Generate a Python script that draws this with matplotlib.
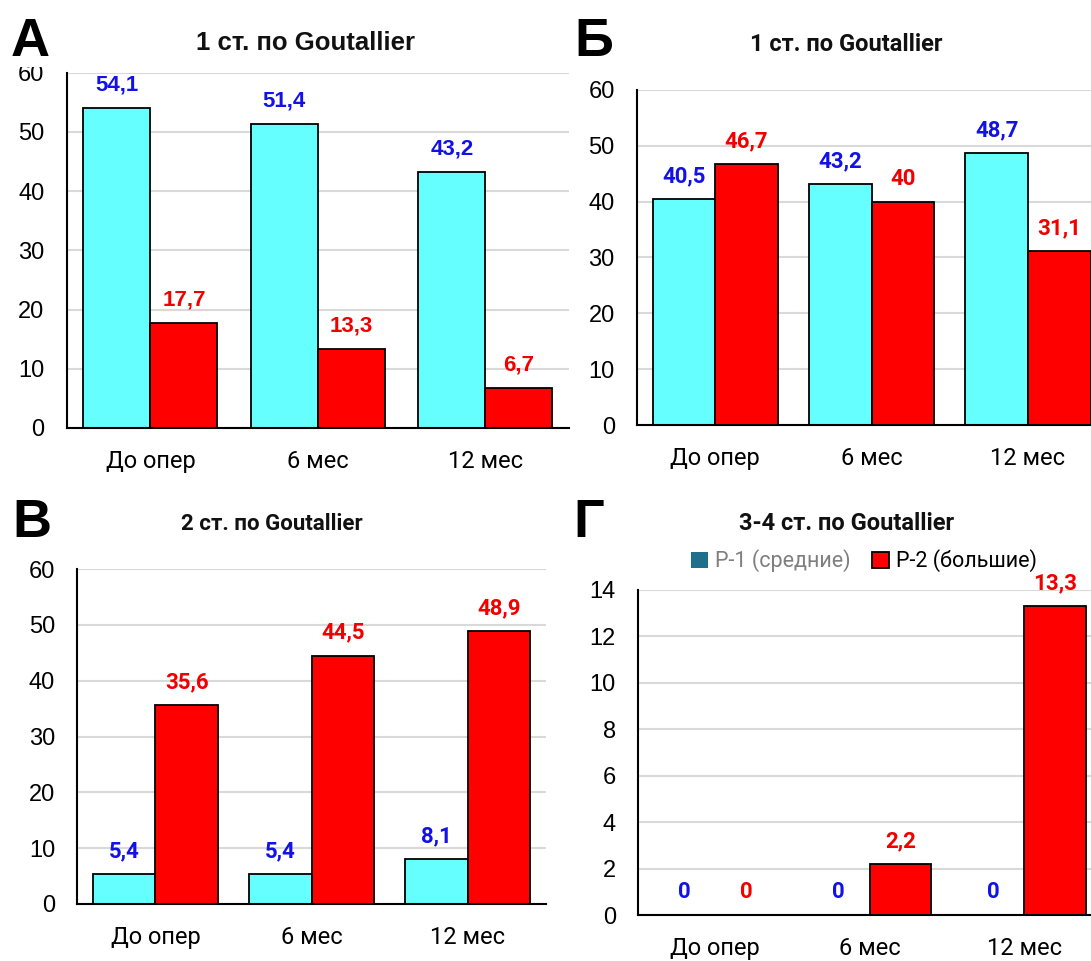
import matplotlib
matplotlib.use("Agg")
import matplotlib.pyplot as plt
from matplotlib.patches import Patch, Rectangle
import numpy as np

# ---------------- data ----------------
categories = ['До опер', '6 мес', '12 мес']
series_names = ['P-1 (средние)', 'P-2 (большие)']

a_p1 = [54.1, 51.4, 43.2]
a_p2 = [17.7, 13.3, 6.7]
b_p1 = [40.5, 43.2, 48.7]
b_p2 = [46.7, 40.0, 31.1]
v_p1 = [5.4, 5.4, 8.1]
v_p2 = [35.6, 44.5, 48.9]
g_p1 = [0, 0, 0]
g_p2 = [0, 2.2, 13.3]

titles = ['1 ст. по Goutallier', '1 ст. по Goutallier',
          '2 ст. по Goutallier', '3-4 ст. по Goutallier']
letters = ['А', 'Б', 'В', 'Г']
y_max = [60, 60, 60, 14]
y_step = [10, 10, 10, 2]

# ---------------- style ----------------
W, H = 1091, 961
CYAN = '#66FFFF'
RED = '#FF0000'
LBL_BLUE = '#1212E8'
LBL_RED = '#F20000'
GRID = '#D9D9D9'
ARIAL = ['Liberation Sans', 'DejaVu Sans']
ROBOTO = ['Roboto', 'DejaVu Sans']

fig = plt.figure(figsize=(W / 100, H / 100), dpi=100)
fig.patch.set_facecolor('white')


def px_rect(left, right, top, bottom):
    return [left / W, 1 - bottom / H, (right - left) / W, (bottom - top) / H]


# axes rectangles in pixel coordinates (left, right, top, bottom)
rects = [
    px_rect(66.7, 569, 72.7, 428),
    px_rect(637, 1106.2, 90, 425),
    px_rect(77.3, 546, 569, 904),
    px_rect(638, 1101.2, 590, 915),
]
title_pos = [(305, 50), (846, 51), (272, 530), (847, 530)]
title_font = [ARIAL, ROBOTO, ROBOTO, ROBOTO]
title_size = [18.5, 17, 16, 17]
letter_pos = [(11, 56), (574, 56), (12, 537), (573, 537)]
label_font = [ARIAL, ROBOTO, ROBOTO, ROBOTO]

data = [(a_p1, a_p2), (b_p1, b_p2), (v_p1, v_p2), (g_p1, g_p2)]


def fmt(v):
    if float(v) == int(v):
        return str(int(v))
    return ('%.1f' % v).replace('.', ',')


x = np.arange(len(categories))
bw = 0.4
axes = []
for i, (p1, p2) in enumerate(data):
    ax = fig.add_axes(rects[i])
    axes.append(ax)
    ax.set_axisbelow(True)
    ax.bar(x - bw / 2, p1, width=bw, color=CYAN, edgecolor='black',
           linewidth=1.3, label=series_names[0], zorder=2)
    ax.bar(x + bw / 2, p2, width=bw, color=RED, edgecolor='black',
           linewidth=1.3, label=series_names[1], zorder=2)
    for xi, v in zip(x - bw / 2, p1):
        ax.annotate(fmt(v), xy=(xi, v), xytext=(0, 16.5),
                    textcoords='offset points', ha='center', va='center',
                    fontsize=16, fontweight='bold', color=LBL_BLUE,
                    family=label_font[i], annotation_clip=False)
    for xi, v in zip(x + bw / 2, p2):
        ax.annotate(fmt(v), xy=(xi, v), xytext=(0, 16.5),
                    textcoords='offset points', ha='center', va='center',
                    fontsize=16, fontweight='bold', color=LBL_RED,
                    family=label_font[i], annotation_clip=False)
    ax.set_xlim(-0.5, 2.5)
    ax.set_ylim(0, y_max[i])
    ax.set_yticks(np.arange(0, y_max[i] + 0.001, y_step[i]))
    ax.set_xticks(x)
    ax.set_xticklabels(categories, family=ROBOTO, fontsize=17)
    for t in ax.get_yticklabels():
        t.set_family(ARIAL)
        t.set_fontsize(17)
    ax.tick_params(axis='both', length=0)
    ax.tick_params(axis='y', pad=16)
    ax.tick_params(axis='x', pad=16)
    ax.grid(axis='y', color=GRID, linewidth=1.5)
    ax.grid(axis='x', visible=False)
    for s in ['top', 'right']:
        ax.spines[s].set_visible(False)
    for s in ['left', 'bottom']:
        ax.spines[s].set_color('black')
        ax.spines[s].set_linewidth(1.5)
        ax.spines[s].set_zorder(3)

    tx, ty = title_pos[i]
    fig.text(tx / W, 1 - ty / H, titles[i], ha='center', va='baseline',
             fontsize=title_size[i], fontweight='bold', family=title_font[i],
             color='#111111')
    lx, ly = letter_pos[i]
    fig.text(lx / W, 1 - ly / H, letters[i], ha='left', va='baseline',
             fontsize=39, fontweight='bold', family=ARIAL, color='black')

# legend for panel Г
handles = [Patch(facecolor='#1F6E8C', edgecolor='none'),
           Patch(facecolor=RED, edgecolor='black', linewidth=1.3)]
leg = fig.legend(handles, series_names, loc='center',
                 bbox_to_anchor=(864 / W, 1 - 561 / H), ncol=2,
                 frameon=False, handlelength=0.8, handleheight=0.8,
                 handletextpad=0.3, columnspacing=1.0,
                 prop={'family': ROBOTO, 'size': 15.5})
leg.get_texts()[0].set_color('#7F7F7F')
leg.get_texts()[1].set_color('black')

# top of panel А's y-axis is cropped in the original screenshot
fig.add_artist(Rectangle((0, 1 - 67 / H), 62 / W, 8 / H,
                         transform=fig.transFigure, facecolor='white',
                         edgecolor='none', zorder=10))

fig.savefig('out.png', dpi=100, facecolor='white')
